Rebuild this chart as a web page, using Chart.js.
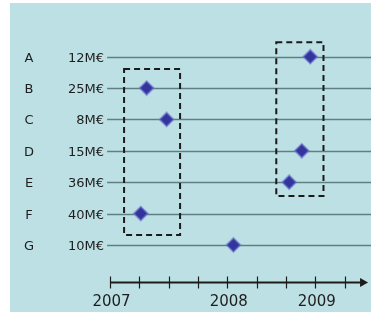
<!DOCTYPE html>
<html>
<head>
<meta charset="utf-8">
<script src="https://cdn.jsdelivr.net/npm/chart.js@4/dist/chart.umd.min.js"></script>
<style>
  html, body { margin: 0; padding: 0; background: #ffffff; }
  #wrap { width: 371px; height: 320px; }
</style>
</head>
<body>
<div id="wrap"><canvas id="c" width="371" height="320"></canvas></div>
<script>
// Projects, their budgets and their start dates (in quarter steps from early 2007)
const projects = ['A', 'B', 'C', 'D', 'E', 'F', 'G'];
const budgets = ['12M€', '25M€', '8M€', '15M€', '36M€', '40M€', '10M€'];
const startDates = [6.83, 1.25, 1.93, 6.54, 6.11, 1.05, 4.21];

// Timeline tick marks and the years written under them
const timelineTicks = [0, 1, 2, 3, 4, 5, 6, 7, 8];
const yearTickValues = [0, 4, 7];
const yearTickLabels = ['2007', '2008', '2009'];

// Groups of projects outlined with a dashed frame: [xFrom, xTo, rowFrom, rowTo]
const groupFrames = [
  [0.48, 2.39, 0.39, 5.68],
  [5.67, 7.28, -0.46, 4.44]
];

const points = projects.map((p, i) => ({ x: startDates[i], y: i }));

const timelinePlugin = {
  id: 'timeline',
  beforeDraw(chart) {
    const ctx = chart.ctx;
    const xs = chart.scales.x, ys = chart.scales.y;
    ctx.save();
    // panel background
    ctx.fillStyle = '#ffffff';
    ctx.fillRect(0, 0, chart.width, chart.height);
    ctx.fillStyle = '#bde0e4';
    ctx.fillRect(10, 3, chart.width - 10, 309);

    // row guide lines and labels
    projects.forEach((p, i) => {
      const y = Math.round(ys.getPixelForValue(i)) + 0.5;
      ctx.strokeStyle = '#5e7f84';
      ctx.lineWidth = 1.4;
      ctx.beginPath();
      ctx.moveTo(xs.getPixelForValue(-0.1), y);
      ctx.lineTo(chart.width, y);
      ctx.stroke();

      ctx.fillStyle = '#1e1e1e';
      ctx.font = '13px "DejaVu Sans"';
      ctx.textBaseline = 'middle';
      ctx.textAlign = 'center';
      ctx.fillText(p, 29, y + 1);
      ctx.textAlign = 'right';
      ctx.fillText(budgets[i], 104, y + 1);
    });
    ctx.restore();
  },
  beforeDatasetsDraw(chart) {
    const ctx = chart.ctx;
    const xs = chart.scales.x, ys = chart.scales.y;
    ctx.save();
    ctx.strokeStyle = '#1a1a1a';
    ctx.lineWidth = 2;
    ctx.setLineDash([6, 4]);
    groupFrames.forEach(f => {
      const x1 = xs.getPixelForValue(f[0]), x2 = xs.getPixelForValue(f[1]);
      const y1 = ys.getPixelForValue(f[2]), y2 = ys.getPixelForValue(f[3]);
      ctx.strokeRect(x1, y1, x2 - x1, y2 - y1);
    });
    ctx.restore();
  },
  afterDraw(chart) {
    const ctx = chart.ctx;
    const xs = chart.scales.x, ys = chart.scales.y;
    const axisY = Math.round(ys.getPixelForValue(7.18)) + 0.5;
    const x0 = xs.getPixelForValue(0);
    const xEnd = xs.getPixelForValue(8.8);
    ctx.save();
    // timeline axis with arrow
    ctx.strokeStyle = '#1c1c1c';
    ctx.fillStyle = '#1c1c1c';
    ctx.lineWidth = 2;
    ctx.beginPath();
    ctx.moveTo(x0, axisY);
    ctx.lineTo(xEnd - 6, axisY);
    ctx.stroke();
    ctx.beginPath();
    ctx.moveTo(xEnd, axisY);
    ctx.lineTo(xEnd - 8, axisY - 4.5);
    ctx.lineTo(xEnd - 8, axisY + 4.5);
    ctx.closePath();
    ctx.fill();

    ctx.lineWidth = 1.2;
    timelineTicks.forEach(t => {
      const x = Math.round(xs.getPixelForValue(t)) + 0.5;
      ctx.beginPath();
      ctx.moveTo(x, axisY - 6);
      ctx.lineTo(x, axisY + 6);
      ctx.stroke();
    });

    ctx.fillStyle = '#1e1e1e';
    ctx.font = '15px "DejaVu Sans"';
    ctx.textAlign = 'center';
    ctx.textBaseline = 'middle';
    yearTickValues.forEach((v, i) => {
      ctx.fillText(yearTickLabels[i], xs.getPixelForValue(v) + 1.5, axisY + 20);
    });
    ctx.restore();
  }
};

new Chart(document.getElementById('c'), {
  type: 'scatter',
  data: {
    datasets: [{
      data: points,
      pointStyle: 'rectRot',
      pointRadius: 7,
      pointBackgroundColor: '#33349c',
      pointBorderColor: 'rgba(110,120,210,0.55)',
      pointBorderWidth: 2,
      clip: false
    }]
  },
  options: {
    responsive: false,
    animation: false,
    layout: { autoPadding: false, padding: { left: 110, right: 0, top: 25.3, bottom: 12.3 } },
    plugins: { legend: { display: false }, tooltip: { enabled: false } },
    scales: {
      x: { type: 'linear', min: 0, max: 8.9, display: false },
      y: { type: 'linear', min: -1, max: 8, reverse: true, display: false }
    }
  },
  plugins: [timelinePlugin]
});
</script>
</body>
</html>
